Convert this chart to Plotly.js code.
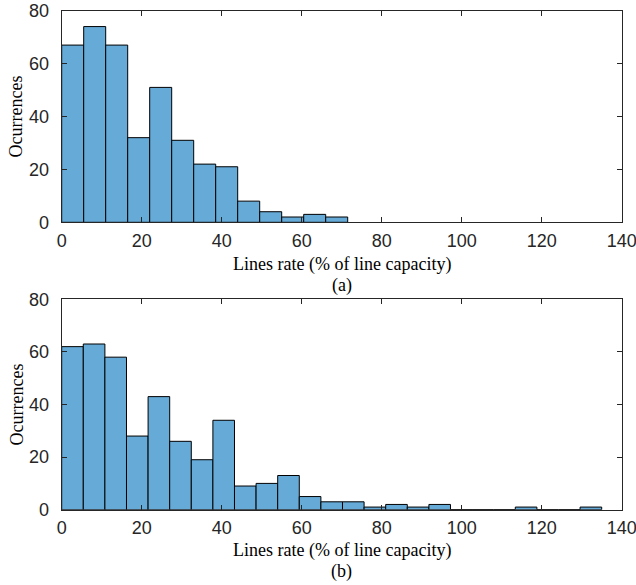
<!DOCTYPE html>
<html>
<head>
<meta charset="utf-8">
<script src="https://cdn.plot.ly/plotly-3.0.1.min.js"></script>
<style>html,body{margin:0;padding:0;background:#fff;}#chart{width:636px;height:585px;}</style>
</head>
<body>
<div id="chart"></div>
<script>
// Histogram (a)
const binWidthA = 5.5;
const countsA = [67, 74, 67, 32, 51, 31, 22, 21, 8, 4, 2, 3, 2];
// Histogram (b)
const binWidthB = 5.4;
const countsB = [62, 63, 58, 28, 43, 26, 19, 34, 9, 10, 13, 5, 3, 3, 1, 2, 1, 2, 0, 0, 0, 1, 0, 0, 1];

const xTicks = [0, 20, 40, 60, 80, 100, 120, 140];
const yTicks = [0, 20, 40, 60, 80];
const xTitle = 'Lines rate (% of line capacity)';
const yTitle = 'Ocurrences';
const panelLabels = ['(a)', '(b)'];

function centers(counts, w) { return counts.map((_, i) => (i + 0.5) * w); }

const fill = '#66aad7';
const traces = [
  {type: 'bar', x: centers(countsA, binWidthA), y: countsA, width: binWidthA,
   marker: {color: fill, line: {color: '#000', width: 1}}, xaxis: 'x', yaxis: 'y', hoverinfo: 'x+y'},
  {type: 'bar', x: centers(countsB, binWidthB), y: countsB, width: binWidthB,
   marker: {color: fill, line: {color: '#000', width: 1}}, xaxis: 'x2', yaxis: 'y2', hoverinfo: 'x+y'}
];

const axCol = '#262626';
const tickFont = {family: '"Liberation Sans", Arial, sans-serif', size: 18, color: axCol};
const serif = {family: '"Liberation Serif", "Times New Roman", serif', size: 18, color: '#000'};

function xa(anchor) {
  return {domain: [0.0970, 0.9775], range: [0, 140], anchor: anchor, tickvals: xTicks,
    ticks: 'inside', ticklen: 5, tickcolor: axCol, showline: true, linecolor: axCol, linewidth: 1,
    mirror: 'ticks', showgrid: false, zeroline: false, tickfont: tickFont, ticklabelstandoff: 2,
    ticklabeloverflow: 'allow', fixedrange: true};
}
function ya(anchor, dom) {
  return {domain: dom, range: [0, 80], anchor: anchor, tickvals: yTicks,
    ticks: 'inside', ticklen: 5, tickcolor: axCol, showline: true, linecolor: axCol, linewidth: 1,
    mirror: 'ticks', showgrid: false, zeroline: false, tickfont: tickFont, ticklabelstandoff: 8,
    ticklabeloverflow: 'allow', fixedrange: true};
}

const domA = [1 - 222.3 / 585, 1 - 10.7 / 585];
const domB = [1 - 509.7 / 585, 1 - 299.3 / 585];
const xc = (0.0970 + 0.9775) / 2;

const layout = {
  width: 636, height: 585,
  margin: {l: 0, r: 0, t: 0, b: 0},
  paper_bgcolor: '#fff', plot_bgcolor: '#fff',
  showlegend: false, bargap: 0,
  xaxis: xa('y'), yaxis: ya('x', domA),
  xaxis2: xa('y2'), yaxis2: ya('x2', domB),
  annotations: [
    {text: xTitle, xref: 'paper', yref: 'paper', x: xc, y: 1 - 265 / 585, showarrow: false, font: serif, xanchor: 'center', yanchor: 'middle'},
    {text: panelLabels[0], xref: 'paper', yref: 'paper', x: xc, y: 1 - 285 / 585, showarrow: false, font: serif, xanchor: 'center', yanchor: 'middle'},
    {text: xTitle, xref: 'paper', yref: 'paper', x: xc, y: 1 - 550 / 585, showarrow: false, font: serif, xanchor: 'center', yanchor: 'middle'},
    {text: panelLabels[1], xref: 'paper', yref: 'paper', x: xc, y: 1 - 571 / 585, showarrow: false, font: serif, xanchor: 'center', yanchor: 'middle'},
    {text: yTitle, xref: 'paper', yref: 'paper', x: 16 / 636, y: (domA[0] + domA[1]) / 2, textangle: -90, showarrow: false, font: serif, xanchor: 'center', yanchor: 'middle'},
    {text: yTitle, xref: 'paper', yref: 'paper', x: 16 / 636, y: (domB[0] + domB[1]) / 2, textangle: -90, showarrow: false, font: serif, xanchor: 'center', yanchor: 'middle'}
  ]
};

Plotly.newPlot('chart', traces, layout, {displayModeBar: false, staticPlot: true});
</script>
</body>
</html>
